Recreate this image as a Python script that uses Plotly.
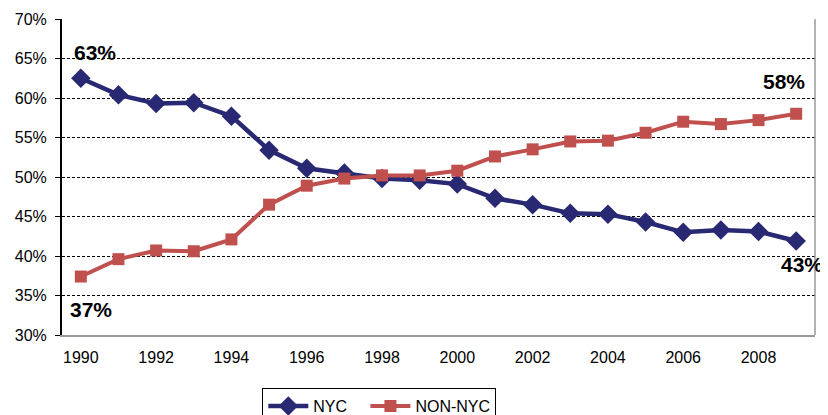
import plotly.graph_objects as go

years = list(range(1990, 2010))
nyc = [62.5, 60.4, 59.3, 59.4, 57.7, 53.4, 51.1, 50.5, 49.8, 49.6,
       49.1, 47.3, 46.5, 45.4, 45.3, 44.3, 43.0, 43.3, 43.1, 41.9]
non_nyc = [37.4, 39.6, 40.7, 40.6, 42.1, 46.5, 48.9, 49.8, 50.2, 50.2,
           50.8, 52.6, 53.5, 54.5, 54.6, 55.6, 57.0, 56.7, 57.2, 58.0]
y_ticks = [30, 35, 40, 45, 50, 55, 60, 65, 70]
x_ticks = list(range(1990, 2010, 2))

NAVY = "#282873"
RED = "#C0504D"
FONT = "Liberation Sans, Arial, sans-serif"

fig = go.Figure()
fig.add_trace(go.Scatter(
    x=years, y=nyc, name="NYC   ", mode="lines+markers",
    line=dict(color=NAVY, width=4.5),
    marker=dict(symbol="diamond", size=15, color=NAVY),
))
fig.add_trace(go.Scatter(
    x=years, y=non_nyc, name="NON-NYC", mode="lines+markers",
    line=dict(color=RED, width=4),
    marker=dict(symbol="square", size=12, color=RED),
))

# end labels: (x, y, text, anchor, pixel shift)
labels = [
    (1990, 65.7, "63%", "left", -9),
    (1990, 33.2, "37%", "left", -13),
    (2009, 62.1, "58%", "right", 11),
    (2009, 38.9, "43%", "right", 29),
]
for x, y, t, anc, dx in labels:
    fig.add_annotation(x=x, y=y, text="<b>%s</b>" % t, showarrow=False,
                       xanchor=anc, yanchor="middle", xshift=dx,
                       font=dict(size=21, color="black", family=FONT))

# right border of plot area
fig.add_shape(type="line", xref="paper", yref="paper", x0=1, x1=1, y0=0, y1=1,
              line=dict(color="#999999", width=1.5))

fig.update_layout(
    width=828, height=415,
    margin=dict(l=54, r=21, t=11, b=88, autoexpand=False),
    paper_bgcolor="white", plot_bgcolor="white",
    font=dict(family=FONT, size=16, color="black"),
    showlegend=True,
    legend=dict(orientation="h", x=0.266, y=-0.168, xanchor="left", yanchor="top",
                bordercolor="black", borderwidth=1, font=dict(size=16),
                itemwidth=40, tracegroupgap=0),
)
fig.update_xaxes(
    range=[1989.5, 2009.5], tickmode="array", tickvals=x_ticks,
    ticktext=[str(v) for v in x_ticks],
    showgrid=False, zeroline=False, showline=True, linecolor="#999999", linewidth=1.5,
    ticks="", ticklabelstandoff=7, automargin=False,
)
fig.update_yaxes(
    range=[30, 70], tickmode="array", tickvals=y_ticks,
    ticktext=["%d%%" % v for v in y_ticks],
    showgrid=True, gridcolor="black", gridwidth=1, griddash="3px,2px",
    zeroline=False, showline=True, linecolor="black", linewidth=2,
    ticks="outside", ticklen=5, tickcolor="black", tickwidth=1, automargin=False,
    ticklabelstandoff=5,
)

fig.write_html("out.html")
